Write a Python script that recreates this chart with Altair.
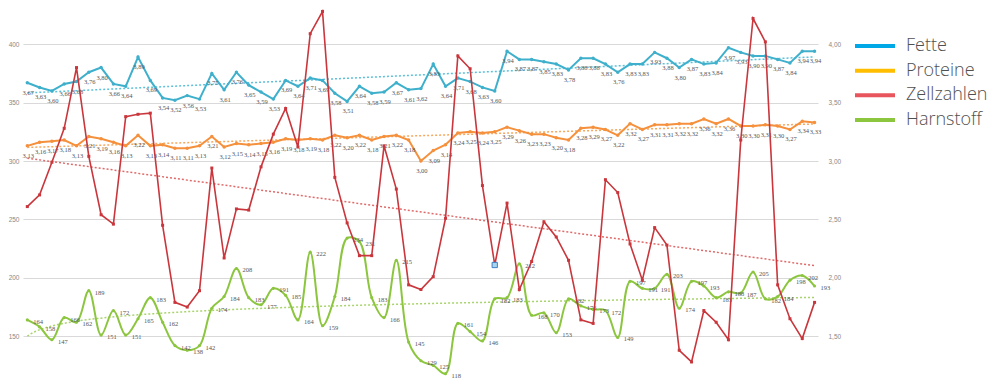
import altair as alt
import pandas as pd

# ---------------- data ----------------
idx = list(range(1, 66))

fette = [3.67, 3.63, 3.60, 3.66, 3.68, 3.76, 3.80, 3.66, 3.64, 3.89, 3.69, 3.54, 3.52, 3.56, 3.53,
         3.75, 3.61, 3.76, 3.65, 3.59, 3.53, 3.69, 3.64, 3.71, 3.69, 3.58, 3.51, 3.64, 3.58, 3.59,
         3.67, 3.61, 3.62, 3.83, 3.64, 3.71, 3.68, 3.63, 3.60, 3.94, 3.87, 3.87, 3.85, 3.83, 3.78,
         3.88, 3.88, 3.83, 3.76, 3.83, 3.83, 3.93, 3.88, 3.80, 3.87, 3.83, 3.84, 3.97, 3.93, 3.90,
         3.90, 3.87, 3.84, 3.94, 3.94]

proteine = [3.13, 3.16, 3.17, 3.18, 3.13, 3.21, 3.19, 3.16, 3.13, 3.22, 3.13, 3.14, 3.11, 3.11, 3.13,
            3.21, 3.12, 3.15, 3.14, 3.15, 3.16, 3.19, 3.18, 3.19, 3.18, 3.22, 3.20, 3.22, 3.18, 3.21,
            3.22, 3.18, 3.00, 3.09, 3.14, 3.24, 3.25, 3.24, 3.25, 3.29, 3.26, 3.23, 3.23, 3.20, 3.18,
            3.28, 3.29, 3.27, 3.22, 3.32, 3.27, 3.31, 3.31, 3.32, 3.32, 3.36, 3.32, 3.36, 3.30, 3.30,
            3.31, 3.30, 3.27, 3.34, 3.33]

zellzahlen = [261, 271, 299, 328, 380, 304, 254, 246, 338, 340, 341, 245, 179, 175, 189,
              294, 217, 259, 258, 295, 323, 345, 312, 409, 428, 286, 247, 219, 219, 313,
              276, 194, 190, 201, 251, 390, 379, 279, 211, 264, 190, 214, 248, 235, 215,
              164, 161, 284, 273, 229, 198, 243, 228, 138, 128, 172, 162, 147, 318, 422,
              402, 194, 165, 148, 179]

harnstoff = [164, 158, 147, 166, 162, 189, 151, 172, 151, 165, 183, 162, 142, 138, 142,
             174, 184, 208, 183, 177, 191, 185, 164, 222, 159, 184, 234, 231, 183, 166,
             215, 145, 129, 125, 118, 161, 154, 146, 182, 183, 212, 168, 170, 153, 182,
             176, 173, 172, 149, 197, 191, 191, 203, 174, 197, 193, 183, 188, 187, 205,
             182, 184, 198, 202, 193]

series_names = ["Fette", "Proteine", "Zellzahlen", "Harnstoff"]
legend_colors = ["#00a8e8", "#ffbe00", "#e8555c", "#8cc63f"]
line_colors = {"Fette": "#3fb0cc", "Proteine": "#f5903c", "Zellzahlen": "#c9363c", "Harnstoff": "#8cc63f"}
trend_colors = {"Fette": "#5cc0da", "Proteine": "#f7a75e", "Zellzahlen": "#e06a6a", "Harnstoff": "#a9d46c"}

left_ticks = [150, 200, 250, 300, 350, 400]
right_ticks = [1.5, 2.0, 2.5, 3.0, 3.5, 4.0]

df_f = pd.DataFrame({"idx": idx, "v": fette})
df_p = pd.DataFrame({"idx": idx, "v": proteine})
df_z = pd.DataFrame({"idx": idx, "v": zellzahlen})
df_h = pd.DataFrame({"idx": idx, "v": harnstoff})
df_leg = pd.DataFrame({"name": series_names, "color": legend_colors})

# ---------------- scales ----------------
X = alt.X("idx:Q", scale=alt.Scale(domain=[0.65, 65.28], nice=False, zero=False), axis=None)

YL = alt.Y("v:Q",
           scale=alt.Scale(domain=[113.4, 431], nice=False, zero=False),
           axis=alt.Axis(orient="left", values=left_ticks, grid=True, gridColor="#d9d9d9",
                         ticks=False, domain=False, labelFontSize=6.5, labelColor="#888",
                         labelPadding=4, minExtent=10, maxExtent=10, title=None))
YR = alt.Y("v:Q",
           scale=alt.Scale(domain=[1.134, 4.31], nice=False, zero=False),
           axis=alt.Axis(orient="right", values=right_ticks, grid=False,
                         labelExpr="replace(format(datum.value,'.2f'),'.',',')",
                         ticks=False, domain=False, labelFontSize=6.5, labelColor="#888",
                         labelPadding=10, minExtent=32, maxExtent=32, title=None))

LBL = dict(fontSize=6.5, color="#555", font="Liberation Serif")


def comma_series(df, name, y):
    c = line_colors[name]
    line = alt.Chart(df).mark_line(color=c, strokeWidth=2,
                                   point=alt.OverlayMarkDef(size=12, filled=True, color=c)).encode(x=X, y=y)
    trend = alt.Chart(df).transform_regression("idx", "v").mark_line(
        color=trend_colors[name], strokeWidth=1.5, strokeDash=[2, 2]).encode(x=X, y=y)
    labels = alt.Chart(df).transform_calculate(
        lab="replace(format(datum.v,'.2f'),'.',',')").mark_text(dy=10, dx=1, **LBL).encode(
        x=X, y=y, text="lab:N")
    return [trend, line, labels]


right_group = alt.layer(*comma_series(df_f, "Fette", YR), *comma_series(df_p, "Proteine", YR))

harn_trend = alt.Chart(df_h).transform_regression("idx", "v", method="log").mark_line(
    color=trend_colors["Harnstoff"], strokeWidth=1.5, strokeDash=[2, 2]).encode(x=X, y=YL)
harn_line = alt.Chart(df_h).mark_line(color=line_colors["Harnstoff"], strokeWidth=2,
                                      interpolate="catmull-rom").encode(x=X, y=YL)
harn_pts = alt.Chart(df_h).mark_circle(size=10, color=line_colors["Harnstoff"], opacity=1).encode(x=X, y=YL)
harn_lbl = alt.Chart(df_h).mark_text(align="left", dx=6, dy=2, fontSize=6.5, color="#555",
                                     font="Liberation Serif").encode(x=X, y=YL, text=alt.Text("v:Q", format="d"))

zell_trend = alt.Chart(df_z).transform_regression("idx", "v").mark_line(
    color=trend_colors["Zellzahlen"], strokeWidth=1.5, strokeDash=[2, 2]).encode(x=X, y=YL)
zell_line = alt.Chart(df_z).mark_line(color=line_colors["Zellzahlen"], strokeWidth=1.6,
                                      point=alt.OverlayMarkDef(shape="square", size=9, filled=True,
                                                               color=line_colors["Zellzahlen"])).encode(x=X, y=YL)
zell_sel = alt.Chart(df_z).transform_filter("datum.idx == 39").mark_square(
    size=28, fill="#a8d4f0", stroke="#3d7fc1", strokeWidth=1, opacity=1).encode(x=X, y=YL)

left_group = alt.layer(harn_trend, harn_line, harn_pts, harn_lbl, zell_trend, zell_line, zell_sel)

main = alt.layer(right_group, left_group).resolve_scale(y="independent").properties(width=795, height=371)

# ---------------- legend ----------------
leg_y = alt.Y("name:N", sort=series_names, axis=None,
              scale=alt.Scale(type="point", range=[38, 112], padding=0))
leg_color = alt.Color("name:N", scale=alt.Scale(domain=series_names, range=legend_colors), legend=None)
leg_rules = alt.Chart(df_leg).mark_rule(strokeWidth=4).encode(
    y=leg_y, x=alt.value(0), x2=alt.value(40), color=leg_color)
leg_text = alt.Chart(df_leg).mark_text(align="left", baseline="middle", fontSize=18, font="Open Sans",
                                       fontWeight=300, color="#505050").encode(
    y=leg_y, x=alt.value(51), text="name:N")
legend = alt.layer(leg_rules, leg_text).properties(width=120, height=371)

chart = alt.hconcat(main, legend, spacing=3).properties(
    padding={"left": 0, "top": 0, "right": 0, "bottom": 0},
    background="white",
).configure_view(stroke=None)

chart.save("out.html", embed_options={"renderer": "svg", "actions": False})
